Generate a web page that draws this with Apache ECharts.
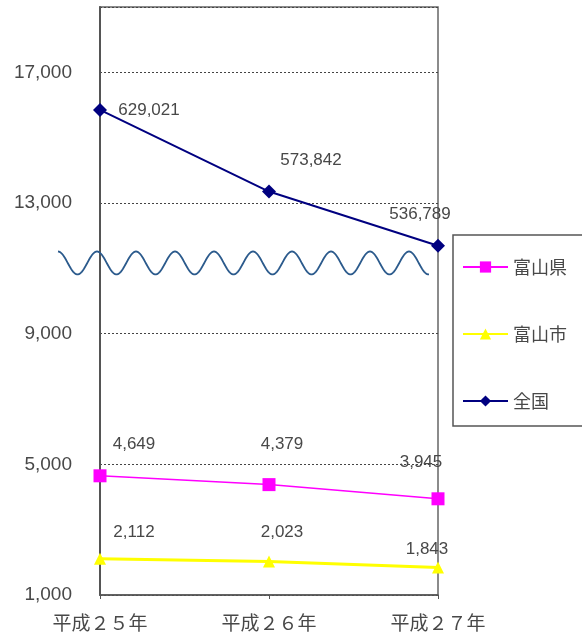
<!DOCTYPE html>
<html>
<head>
<meta charset="utf-8">
<script src="https://cdn.jsdelivr.net/npm/echarts@6/dist/echarts.min.js"></script>
<style>
html,body{margin:0;padding:0;background:#fff;}
#chart{width:582px;height:640px;}
</style>
</head>
<body>
<div id="chart"></div>
<script>
// ---- data ----
const categories = ['平成２５年', '平成２６年', '平成２７年'];
const prefValues = [4649, 4379, 3945];          // 富山県
const cityValues = [2112, 2023, 1843];          // 富山市
const nationalValues = [629021, 573842, 536789]; // 全国 (label values)
const nationalPlotted = [15850, 13350, 11690];   // 全国 position on the broken axis
const seriesNames = ['富山県', '富山市', '全国'];
const yMin = 1000, yMax = 19000, yStep = 4000;

// ---- styling ----
const fmt = v => Number(v).toLocaleString('en-US');
const prefOffsets = [[34, -31], [13, -40], [-17, -36]];
const cityOffsets = [[34, -26], [13, -29], [-11, -18]];
const natOffsets = [[49, 0], [42, -31], [-18, -31]];
const labelStyle = {fontFamily: 'Liberation Sans, Arial, sans-serif', fontSize: 17, color: '#484848'};

function items(values, labels, offsets) {
  return values.map((v, i) => ({
    value: v,
    label: Object.assign({show: true, position: 'inside', offset: offsets[i],
      formatter: () => fmt(labels[i])}, labelStyle)
  }));
}

const chart = echarts.init(document.getElementById('chart'), null, {renderer: 'canvas'});

const option = {
  animation: false,
  backgroundColor: '#fff',
  grid: {left: 100, right: 144, top: 7, bottom: 45, show: true, borderColor: '#666', borderWidth: 1.5, backgroundColor: 'transparent'},
  xAxis: {
    type: 'category',
    data: categories,
    boundaryGap: false,
    axisLine: {lineStyle: {color: '#555', width: 1.5}},
    axisTick: {show: true, length: 4, lineStyle: {color: '#555'}},
    axisLabel: {fontFamily: 'Noto Sans CJK JP, sans-serif', fontSize: 19, color: '#484848', margin: 18}
  },
  yAxis: {
    type: 'value',
    min: yMin, max: yMax, interval: yStep,
    axisLine: {show: true, lineStyle: {color: '#555', width: 2}},
    axisTick: {show: false},
    axisLabel: {fontFamily: 'Liberation Sans, Arial, sans-serif', fontSize: 19, color: '#484848', margin: 28,
      showMaxLabel: false, formatter: v => fmt(v)},
    splitLine: {show: true, lineStyle: {color: '#444', type: [2, 2], width: 1}}
  },
  legend: {
    orient: 'vertical',
    left: 453, top: 235,
    data: seriesNames,
    itemWidth: 45, itemHeight: 14, itemGap: 49,
    padding: [23, 60, 16, 9],
    borderColor: '#555', borderWidth: 1.5,
    textStyle: {fontFamily: 'Noto Sans CJK JP, sans-serif', fontSize: 18, color: '#484848'}
  },
  series: [
    {
      name: seriesNames[0], type: 'line',
      data: items(prefValues, prefValues, prefOffsets),
      symbol: 'rect', symbolSize: 13,
      lineStyle: {color: '#ff00ff', width: 1.5},
      itemStyle: {color: '#ff00ff'}
    },
    {
      name: seriesNames[1], type: 'line',
      data: items(cityValues, cityValues, cityOffsets),
      symbol: 'triangle', symbolSize: 12,
      lineStyle: {color: '#ffff00', width: 3},
      itemStyle: {color: '#ffff00'}
    },
    {
      name: seriesNames[2], type: 'line',
      data: items(nationalPlotted, nationalValues, natOffsets),
      symbol: 'diamond', symbolSize: 14,
      lineStyle: {color: '#000080', width: 2},
      itemStyle: {color: '#000080'}
    }
  ]
};
chart.setOption(option);

// ---- axis-break wave (decoration) ----
const wave = [];
const x0 = 58, x1 = 429.5, yc = 263, amp = 11.5, period = 39;
for (let x = x0; x <= x1 + 0.01; x += 1) {
  wave.push([x, yc - amp * Math.cos(2 * Math.PI * (x - x0) / period)]);
}
chart.setOption({
  graphic: [{
    type: 'polyline', z: 100,
    shape: {points: wave},
    style: {stroke: '#2b5a8c', lineWidth: 1.8, fill: null}
  }]
});
</script>
</body>
</html>
